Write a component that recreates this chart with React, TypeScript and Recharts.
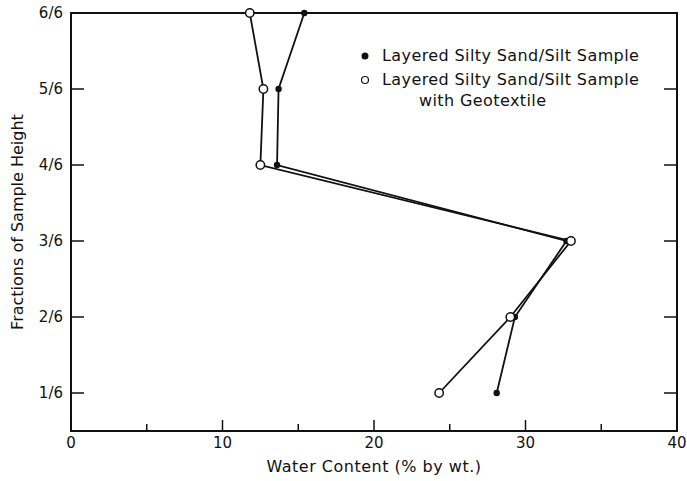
import React from "react";
import { ScatterChart, Scatter, XAxis, YAxis, ReferenceArea } from "recharts";

// sample height fractions (n/6) and water content readings
const heights = [6, 5, 4, 3, 2, 1];
const plainWater = [15.4, 13.7, 13.6, 32.7, 29.3, 28.1];
const geoWater = [11.8, 12.7, 12.5, 33.0, 29.0, 24.3];

const xTicks = [0, 5, 10, 15, 20, 25, 30, 35, 40];
const topTicks = [5, 10, 15, 20, 25, 30, 35];
const yTicks = [1, 2, 3, 4, 5, 6];
const rightTicks = [1, 2, 3, 4, 5];

const plainData = heights.map((h, i) => ({ x: plainWater[i], y: h }));
const geoData = heights.map((h, i) => ({ x: geoWater[i], y: h }));

const FONT = "'DejaVu Sans', sans-serif";
const INK = "#111";

const BottomTick = (p: any) => {
  const v = p.payload.value;
  const major = v % 10 === 0;
  return (
    <g>
      <line x1={p.x} y1={p.y} x2={p.x} y2={p.y - (major ? 11 : 7)} stroke={INK} strokeWidth={1.5} />
      {major && (
        <text x={p.x} y={p.y + 17} textAnchor="middle" fontSize={15} fontFamily={FONT} fill={INK}>
          {v}
        </text>
      )}
    </g>
  );
};

const TopTick = (p: any) => {
  const v = p.payload.value;
  const major = v % 10 === 0;
  return <line x1={p.x} y1={p.y} x2={p.x} y2={p.y + (major ? 12 : 7)} stroke={INK} strokeWidth={1.5} />;
};

const LeftTick = (p: any) => (
  <g>
    <line x1={p.x} y1={p.y} x2={p.x + 13} y2={p.y} stroke={INK} strokeWidth={1.5} />
    <text x={p.x - 8} y={p.y + 5} textAnchor="end" fontSize={15} fontFamily={FONT} fill={INK}>
      {`${p.payload.value}/6`}
    </text>
  </g>
);

const RightTick = (p: any) => <line x1={p.x} y1={p.y} x2={p.x - 13} y2={p.y} stroke={INK} strokeWidth={1.5} />;

const FilledDot = (p: any) => <circle cx={p.cx} cy={p.cy} r={3.2} fill={INK} />;
const OpenDot = (p: any) => <circle cx={p.cx} cy={p.cy} r={4.2} fill="#fff" stroke={INK} strokeWidth={1.5} />;

export default function App() {
  return (
    <div style={{ position: "absolute", left: 0, top: 0, width: 687, height: 481, background: "#fff" }}>
      <ScatterChart width={687} height={481} margin={{ top: 12, right: 9, bottom: 0, left: 0 }}>
        <XAxis
          type="number"
          dataKey="x"
          domain={[0, 40]}
          ticks={xTicks}
          height={50}
          tickSize={0}
          tickMargin={0}
          tick={BottomTick}
          axisLine={{ stroke: INK, strokeWidth: 2 }}
          label={{ value: "Water Content (% by wt.)", position: "insideBottom", offset: 9, fontSize: 16, fontFamily: FONT, fill: INK, letterSpacing: 0.5 }}
        />
        <XAxis
          xAxisId="top"
          orientation="top"
          type="number"
          domain={[0, 40]}
          ticks={topTicks}
          height={1}
          tickSize={0}
          tickMargin={0}
          tick={TopTick}
          axisLine={{ stroke: INK, strokeWidth: 2 }}
        />
        <YAxis
          type="number"
          dataKey="y"
          domain={[0.5, 6]}
          ticks={yTicks}
          width={71}
          tickSize={0}
          tickMargin={0}
          tick={LeftTick}
          axisLine={{ stroke: INK, strokeWidth: 2 }}
          label={{ value: "Fractions of Sample Height", angle: -90, position: "insideLeft", offset: 17, fontSize: 16, fontFamily: FONT, fill: INK, style: { textAnchor: "middle" } }}
        />
        <YAxis
          yAxisId="right"
          orientation="right"
          type="number"
          dataKey="y"
          domain={[0.5, 6]}
          ticks={rightTicks}
          width={1}
          tickSize={0}
          tickMargin={0}
          tick={RightTick}
          axisLine={{ stroke: INK, strokeWidth: 2 }}
        />
        {/* frame around the plot so the right edge shows */}
        <ReferenceArea x1={0} x2={40} y1={0.5} y2={6} fill="none" fillOpacity={0} stroke={INK} strokeWidth={2} ifOverflow="visible" />
        <Scatter
          data={plainData}
          line={{ stroke: INK, strokeWidth: 1.8 }}
          shape={FilledDot}
          isAnimationActive={false}
        />
        <Scatter
          yAxisId="right"
          data={geoData}
          line={{ stroke: INK, strokeWidth: 1.8 }}
          shape={OpenDot}
          isAnimationActive={false}
        />
      </ScatterChart>
      <div style={{ position: "absolute", left: 359, top: 45, fontFamily: FONT, fontSize: 16, letterSpacing: 0.4, color: INK, lineHeight: "21px" }}>
        <div style={{ display: "flex", alignItems: "center" }}>
          <svg width={23} height={12}><circle cx={6} cy={6} r={3.5} fill={INK} /></svg>
          <span>Layered Silty Sand/Silt Sample</span>
        </div>
        <div style={{ display: "flex", alignItems: "center", marginTop: 3 }}>
          <svg width={23} height={12}><circle cx={6} cy={6} r={3.5} fill="#fff" stroke={INK} strokeWidth={1.2} /></svg>
          <span>Layered Silty Sand/Silt Sample</span>
        </div>
        <div style={{ paddingLeft: 60 }}>with Geotextile</div>
      </div>
    </div>
  );
}
